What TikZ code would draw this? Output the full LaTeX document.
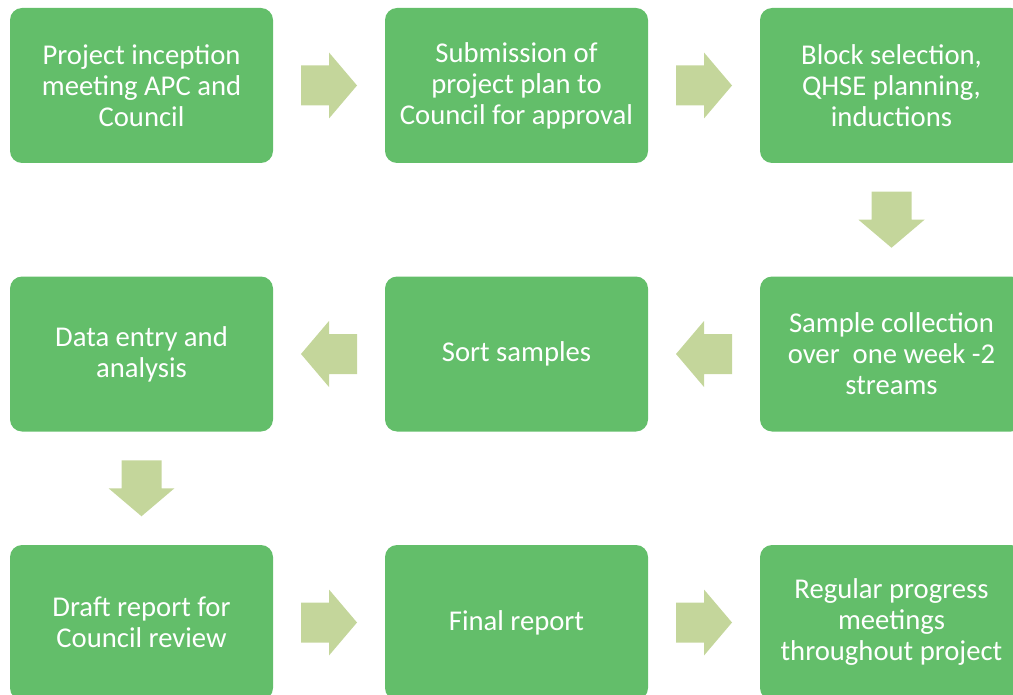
\documentclass[tikz,border=0pt]{standalone}
\usepackage{fontspec}
\setmainfont{Carlito}
\usetikzlibrary{calc}
\definecolor{boxgreen}{HTML}{63BE6A}
\definecolor{arrowgreen}{HTML}{C4D69B}
\tikzset{flow arrow/.pic={
  \fill[arrowgreen] (-28,-20) -- (0,-20) -- (0,-33) -- (28,0) -- (0,33) -- (0,20) -- (-28,20) -- cycle;}}

\begin{document}
\begin{tikzpicture}[x=0.75pt,y=-0.75pt]
  \tikzstyle{stage}=[rectangle,rounded corners=9pt,fill=boxgreen,text=white,minimum width=197.25pt,minimum height=116.25pt,inner sep=0pt,align=center,font=\fontsize{21.5}{23.25}\selectfont]
  \useasboundingbox (0,0) rectangle (1013,695);
  \clip (0,0) rectangle (1013,695);

  \node[stage] (S_1) at (141.5,85.5) {Project inception\\meeting APC and\\Council};
  \node[stage] (S_2) at (516.5,85.5) {Submission of\\project plan to\\Council for approval};
  \node[stage] (S_3) at (891.5,85.5) {Block selection,\\QHSE planning,\\inductions};
  \node[stage] (S_4) at (891.5,354) {Sample collection\\over~ one week -2\\streams};
  \node[stage] (S_5) at (516.5,354) {Sort samples};
  \node[stage] (S_6) at (141.5,354) {Data entry and\\analysis};
  \node[stage] (S_7) at (141.5,622.5) {Draft report for\\Council review};
  \node[stage] (S_8) at (516.5,622.5) {Final report};
  \node[stage] (S_9) at (891.5,622.5) {Regular progress\\meetings\\throughout project};

  \pic at ($(S_1)!0.5!(S_2)$) {flow arrow};
  \pic at ($(S_2)!0.5!(S_3)$) {flow arrow};
  \pic[rotate=-90] at ($(S_3)!0.5!(S_4)$) {flow arrow};
  \pic[rotate=180] at ($(S_4)!0.5!(S_5)$) {flow arrow};
  \pic[rotate=180] at ($(S_5)!0.5!(S_6)$) {flow arrow};
  \pic[rotate=-90] at ($(S_6)!0.5!(S_7)$) {flow arrow};
  \pic at ($(S_7)!0.5!(S_8)$) {flow arrow};
  \pic at ($(S_8)!0.5!(S_9)$) {flow arrow};
\end{tikzpicture}
\end{document}
